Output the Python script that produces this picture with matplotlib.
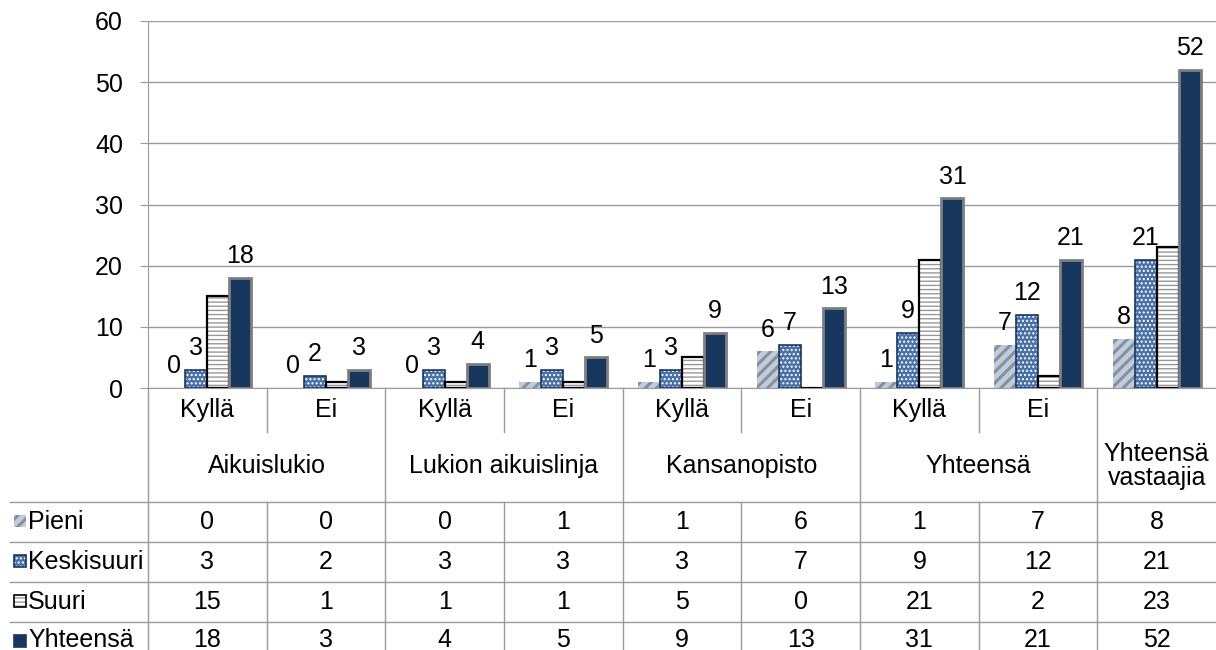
import matplotlib
matplotlib.use('Agg')
import matplotlib.pyplot as plt
import matplotlib.transforms as mtransforms
from matplotlib.patches import Rectangle
import numpy as np

plt.rcParams['font.family'] = ['Liberation Sans', 'DejaVu Sans']
plt.rcParams['hatch.linewidth'] = 1.0

# ---------------- data ----------------
groups = ['Aikuislukio', 'Lukion aikuislinja', 'Kansanopisto', 'Yhteensä', 'Yhteensä\nvastaajia']
group_spans = [(0, 2), (2, 4), (4, 6), (6, 8), (8, 9)]
categories = ['Kyllä', 'Ei', 'Kyllä', 'Ei', 'Kyllä', 'Ei', 'Kyllä', 'Ei', '']
series_names = ['Pieni', 'Keskisuuri', 'Suuri', 'Yhteensä']
pieni = [0, 0, 0, 1, 1, 6, 1, 7, 8]
keskisuuri = [3, 2, 3, 3, 3, 7, 9, 12, 21]
suuri = [15, 1, 1, 1, 5, 0, 21, 2, 23]
yhteensa = [18, 3, 4, 5, 9, 13, 31, 21, 52]
yticks = [0, 10, 20, 30, 40, 50, 60]

series = [pieni, keskisuuri, suuri, yhteensa]
show_labels = [True, True, False, True]

styles = [
    dict(face='#b9cde5', hatch='///', hcolor='#8f8f8f', hlw=2.2, edge='none', lw=0),
    dict(face='#4a70a8', hatch='....', hcolor='#ffffff', hlw=1.0, edge='#17375e', lw=1.2),
    dict(face='#ffffff', hatch='----', hcolor='#999999', hlw=1.0, edge='#000000', lw=1.6),
    dict(face='#17375e', hatch=None, hcolor=None, hlw=1.0, edge='#7f7f7f', lw=2.0),
]

W, H = 1216, 650
FS = 18
grey = '#9a9a9a'

fig = plt.figure(figsize=(W / 100, H / 100), dpi=100)
ax = fig.add_axes([148 / W, (H - 388) / H, (1216 - 148) / W, (388 - 21) / H])
ax.set_xlim(0, 9)
ax.set_ylim(0, 60)
ax.set_yticks(yticks)
ax.set_xticks([])
ax.grid(axis='y', color=grey, lw=1)
ax.set_axisbelow(True)
for s in ['top', 'right']:
    ax.spines[s].set_visible(False)
ax.spines['left'].set_color(grey)
ax.spines['bottom'].set_color(grey)
ax.tick_params(axis='y', length=6, color=grey, labelsize=FS, pad=12)

x = np.arange(len(categories)) + 0.5
w = 0.186
offsets = [-1.5, -0.5, 0.5, 1.5]

for vals, st, off, lab in zip(series, styles, offsets, show_labels):
    xs = x + off * w
    ax.bar(xs, vals, w, color=st['face'], edgecolor='none', linewidth=0, zorder=2)
    if st['hatch']:
        with plt.rc_context({'hatch.linewidth': st['hlw']}):
            ax.bar(xs, vals, w, color='none', edgecolor=st['hcolor'], linewidth=0,
                   hatch=st['hatch'], zorder=3)
    if st['lw'] > 0:
        ax.bar(xs, vals, w, color='none', edgecolor=st['edge'], linewidth=st['lw'], zorder=4)
    if lab:
        for xi, v in zip(xs, vals):
            ax.annotate(str(v), (xi, v), xytext=(0, 7), textcoords='offset points',
                        ha='center', va='bottom', fontsize=FS)

# ---------------- table ----------------
trans = mtransforms.blended_transform_factory(ax.transData, fig.transFigure)
fy = lambda py: 1 - py / H
fx = lambda px: px / W

def vline(xd, p0, p1):
    ax.plot([xd, xd], [fy(p0), fy(p1)], color=grey, lw=1, transform=trans, clip_on=False)

for py in [502, 542, 582, 622]:
    fig.add_artist(plt.Line2D([fx(10), 1.0], [fy(py), fy(py)], color=grey, lw=1,
                              transform=fig.transFigure))
vline(0, 388, 650)
for g in [2, 4, 6, 8]:
    vline(g, 388, 650)
for c in [1, 3, 5, 7]:
    vline(c, 388, 432)
    vline(c, 502, 650)

for xi, c in zip(x, categories):
    if c:
        ax.text(xi, fy(417), c, transform=trans, ha='center', va='baseline', fontsize=FS)
for (a, b), g in zip(group_spans, groups):
    ax.text((a + b) / 2, fy(466), g, transform=trans, ha='center', va='center',
            fontsize=FS, linespacing=1.05)

for r, (name, vals, st) in enumerate(zip(series_names, series, styles)):
    yc = 521 + 40 * r
    base = min(yc + 8, 647)
    for xi, v in zip(x, vals):
        ax.text(xi, fy(base), str(v), transform=trans, ha='center', va='baseline', fontsize=FS)
    kx0, ksz = 14, 12
    y0 = fy(yc + ksz / 2)
    fig.add_artist(Rectangle((fx(kx0), y0), ksz / W, ksz / H, transform=fig.transFigure,
                             facecolor=st['face'], edgecolor='none', lw=0))
    if st['hatch']:
        with plt.rc_context({'hatch.linewidth': st['hlw']}):
            fig.add_artist(Rectangle((fx(kx0), y0), ksz / W, ksz / H,
                                     transform=fig.transFigure, facecolor='none',
                                     edgecolor=st['hcolor'], lw=0, hatch=st['hatch']))
    if st['lw'] > 0:
        fig.add_artist(Rectangle((fx(kx0), y0), ksz / W, ksz / H,
                                 transform=fig.transFigure, facecolor='none',
                                 edgecolor=st['edge'] if name != 'Yhteensä' else st['face'],
                                 lw=1.2))
    fig.text(fx(28), fy(base), name, ha='left', va='baseline', fontsize=FS)

fig.savefig('out.png', dpi=100)
